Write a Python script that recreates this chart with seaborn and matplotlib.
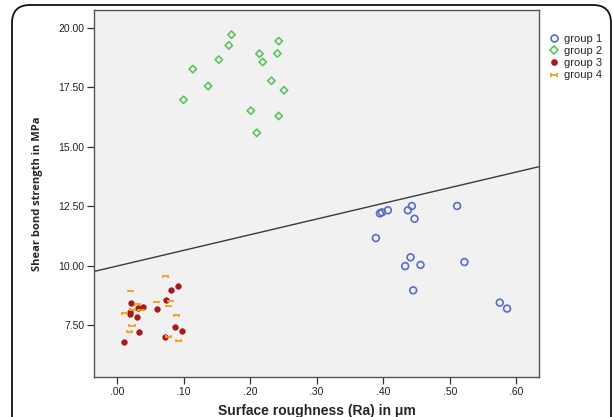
import numpy as np
import pandas as pd
import seaborn as sns
import matplotlib
matplotlib.use("Agg")
import matplotlib.pyplot as plt
from matplotlib.path import Path
from matplotlib.patches import FancyBboxPatch
from matplotlib.ticker import FuncFormatter
from matplotlib.lines import Line2D

# ---- data ----
g1_x = [0.395, 0.398, 0.407, 0.437, 0.443, 0.447, 0.511, 0.389, 0.441, 0.433, 0.456, 0.522, 0.445, 0.575, 0.586]
g1_y = [12.20, 12.24, 12.33, 12.33, 12.51, 11.97, 12.51, 11.16, 10.35, 9.98, 10.03, 10.15, 8.96, 8.44, 8.19]

g2_x = [0.172, 0.243, 0.168, 0.214, 0.241, 0.153, 0.219, 0.114, 0.232, 0.137, 0.251, 0.100, 0.201, 0.243, 0.210]
g2_y = [19.72, 19.45, 19.27, 18.92, 18.93, 18.67, 18.57, 18.27, 17.78, 17.56, 17.38, 16.98, 16.52, 16.30, 15.59]

g3_x = [0.092, 0.081, 0.021, 0.074, 0.039, 0.032, 0.060, 0.020, 0.0195, 0.030, 0.087, 0.0335, 0.098, 0.0726, 0.011]
g3_y = [9.15, 8.96, 8.43, 8.55, 8.26, 8.22, 8.17, 8.05, 7.96, 7.84, 7.40, 7.22, 7.25, 7.01, 6.78]

g4_x = [0.073, 0.020, 0.031, 0.060, 0.081, 0.077, 0.023, 0.0115, 0.089, 0.0225, 0.0185, 0.0776, 0.093, 0.036]
g4_y = [9.55, 8.93, 8.38, 8.47, 8.51, 8.30, 8.14, 8.00, 7.91, 7.47, 7.22, 7.01, 6.84, 8.13]

group_names = ["group 1", "group 2", "group 3", "group 4"]

fit_intercept = 9.98
fit_slope = 6.6

x_ticks = [0.0, 0.1, 0.2, 0.3, 0.4, 0.5, 0.6]
y_ticks = [7.5, 10.0, 12.5, 15.0, 17.5, 20.0]

df = pd.DataFrame({
    "x": g1_x + g2_x + g3_x + g4_x,
    "y": g1_y + g2_y + g3_y + g4_y,
    "group": (["group 1"] * len(g1_x) + ["group 2"] * len(g2_x)
              + ["group 3"] * len(g3_x) + ["group 4"] * len(g4_x)),
})

sns.set_theme(style="white")
plt.rcParams["font.family"] = ["Liberation Sans", "DejaVu Sans"]

fig = plt.figure(figsize=(6.13, 4.17), dpi=100)
ax = fig.add_axes([0.1533, 0.0959, 0.7260, 0.8801])
ax.set_facecolor("#f1f1f1")

bar_marker = Path(
    [(-1, 0), (1, 0), (-1, -0.55), (-1, 0.55), (1, -0.55), (1, 0.55)],
    [Path.MOVETO, Path.LINETO, Path.MOVETO, Path.LINETO, Path.MOVETO, Path.LINETO],
)

blue, green, red, orange = "#5a6cc4", "#5cc45c", "#a8191c", "#f5a020"

styles = {
    "group 1": dict(marker="o", s=24, facecolor="none", edgecolor=blue, linewidth=1.2),
    "group 2": dict(marker="D", s=14, facecolor="none", edgecolor=green, linewidth=1.2),
    "group 3": dict(marker="o", s=16, color=red, edgecolor=red, linewidth=0.5),
    "group 4": dict(marker=bar_marker, s=14, facecolor="none", edgecolor=orange, linewidth=1.3),
}

for name in group_names:
    sub = df[df["group"] == name]
    sns.scatterplot(data=sub, x="x", y="y", ax=ax, label=name, legend=False, **styles[name])

ax.axline((0, fit_intercept), slope=fit_slope, color="#3a3a3a", linewidth=1.0, zorder=1)

ax.set_xlim(-0.0345, 0.634)
ax.set_ylim(5.31, 20.76)
ax.set_xticks(x_ticks)
ax.set_yticks(y_ticks)
ax.xaxis.set_major_formatter(FuncFormatter(lambda v, p: f"{v:.2f}".lstrip("0")))
ax.yaxis.set_major_formatter(FuncFormatter(lambda v, p: f"{v:.2f}"))
ax.tick_params(axis="both", which="major", direction="out", length=5, width=0.9,
               color="#333333", labelsize=7.5, labelcolor="#222222", bottom=True, left=True, pad=2)

for sp in ax.spines.values():
    sp.set_color("#555555")
    sp.set_linewidth(1.0)

ax.set_xlabel("Surface roughness (Ra) in μm", fontsize=10, fontweight="bold", labelpad=5)
ax.set_ylabel("Shear bond strength in MPa", fontsize=8, fontweight="bold", labelpad=11,
              family=["Open Sans", "DejaVu Sans"])

handles = [
    Line2D([], [], linestyle="none", marker="o", markersize=5, markerfacecolor="none",
           markeredgecolor=blue, markeredgewidth=1.2),
    Line2D([], [], linestyle="none", marker="D", markersize=4, markerfacecolor="none",
           markeredgecolor=green, markeredgewidth=1.2),
    Line2D([], [], linestyle="none", marker="o", markersize=3.8, markerfacecolor=red,
           markeredgecolor=red),
    Line2D([], [], linestyle="none", marker=bar_marker, markersize=4.5, markerfacecolor="none",
           markeredgecolor=orange, markeredgewidth=1.3),
]
fig.legend(handles, group_names, loc="upper left", bbox_to_anchor=(0.885, 0.935),
           frameon=False, fontsize=8, handlelength=0.8, handletextpad=0.5,
           labelspacing=0.2, borderpad=0.1)

H = 417
border = FancyBboxPatch((12, H - 5 - 430), 599, 430, boxstyle="round,pad=0,rounding_size=18",
                        transform=None, facecolor="none", edgecolor="#111111",
                        linewidth=1.3, zorder=10)
fig.patches.append(border)

fig.savefig("out.png", dpi=100)
